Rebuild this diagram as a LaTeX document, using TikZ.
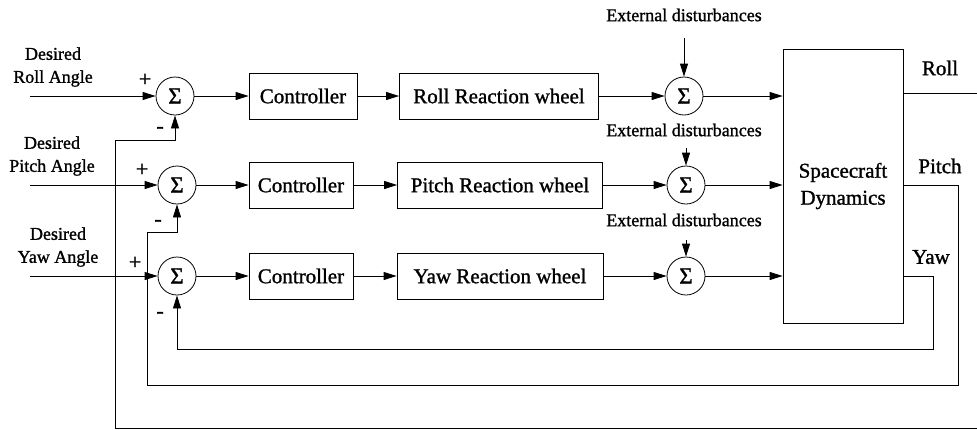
\documentclass[tikz,border=0pt]{standalone}
\usepackage{fontspec}
\setmainfont{Liberation Serif}[FakeBold=1.2]
\usetikzlibrary{arrows.meta}
\begin{document}
\begin{tikzpicture}[x=1pt,y=-1pt,
  line width=0.8pt,
  big/.style={font=\fontsize{21}{27}\selectfont, align=center},
  small/.style={font=\fontsize{18}{23}\selectfont, align=center, inner sep=0pt},
  blk/.style={draw, big, minimum height=46pt, inner sep=0pt},
  sumnode/.style={draw, circle, minimum size=38pt, inner sep=0pt, font=\fontsize{23}{25}\selectfont},
  arr/.style={-{Triangle[length=13pt,width=8pt]}},
  sgn/.style={font=\fontsize{22}{24}\selectfont, inner sep=0pt}
]
\useasboundingbox (0,0) rectangle (977,429);
% summing junctions
\node[sumnode] (s1) at (175,96) {Σ};
\node[sumnode] (s2) at (177,185) {Σ};
\node[sumnode] (s3) at (177,276) {Σ};
% controllers
\node[blk, minimum width=108pt] (c1) at (303,96) {Controller};
\node[blk, minimum width=104pt] (c2) at (301,185) {Controller};
\node[blk, minimum width=104pt] (c3) at (301,276) {Controller};
% reaction wheels
\node[blk, minimum width=199pt] (w1) at (499,96) {Roll Reaction wheel};
\node[blk, minimum width=205pt] (w2) at (500,185) {Pitch Reaction wheel};
\node[blk, minimum width=206pt] (w3) at (500,276) {Yaw Reaction wheel};
% disturbance sums
\node[sumnode] (d1) at (684,96) {Σ};
\node[sumnode] (d2) at (686,185) {Σ};
\node[sumnode] (d3) at (686,276) {Σ};
% spacecraft
\node[draw, big, minimum width=120pt, minimum height=274pt, inner sep=0pt] (sc) at (843,186) {Spacecraft\\Dynamics};
% input labels
\node[small] (in1) at (53,67) {Desired\\Roll Angle};
\node[small] (in2) at (52,156) {Desired\\Pitch Angle};
\node[small] (in3) at (58,247) {Desired\\Yaw Angle};
\coordinate (i1) at (30,96);
\coordinate (i2) at (30,185);
\coordinate (i3) at (30,276);
% disturbance labels
\node[small] (e1) at (684,15) {External disturbances};
\node[small] (e2) at (684,130) {External disturbances};
\node[small] (e3) at (684,220) {External disturbances};
\coordinate (t1) at (684,38);
\coordinate (t2) at (686,148);
\coordinate (t3) at (686,240);
% output labels
\node[big] (o1) at (940,68) {Roll};
\node[big] (o2) at (940,166) {Pitch};
\node[big] (o3) at (931,257) {Yaw};
% signs
\node[sgn] (p1) at (145,80) {+};
\node[sgn] (m1) at (160,130) {-};
\node[sgn] (p2) at (142,170) {+};
\node[sgn] (m2) at (158,223) {-};
\node[sgn] (p3) at (135,263) {+};
\node[sgn] (m3) at (160,315) {-};
% forward paths
\foreach \k in {1,2,3} {
  \draw[arr] (i\k) -- (s\k);
  \draw[arr] (s\k) -- (c\k);
  \draw[arr] (c\k) -- (w\k);
  \draw[arr] (w\k) -- (d\k);
  \draw[arr] (t\k) -- (d\k);
  \draw[arr] (d\k) -- (d\k -| sc.west);
}
% feedback paths
\coordinate (r0) at (sc.east |- 0,93);
\coordinate (q0) at (sc.east |- 0,185);
\coordinate (y0) at (sc.east |- 0,276);
\draw[arr] (r0) -- (990,93) -- (990,428) -- (115,428) -- (115,140) -- (175,140) -- (s1.south);
\draw[arr] (q0) -- (958,185) -- (958,385) -- (147,385) -- (147,232) -- (177,232) -- (s2.south);
\draw[arr] (y0) -- (933,276) -- (933,349) -- (177,349) -- (s3.south);
\end{tikzpicture}
\end{document}
